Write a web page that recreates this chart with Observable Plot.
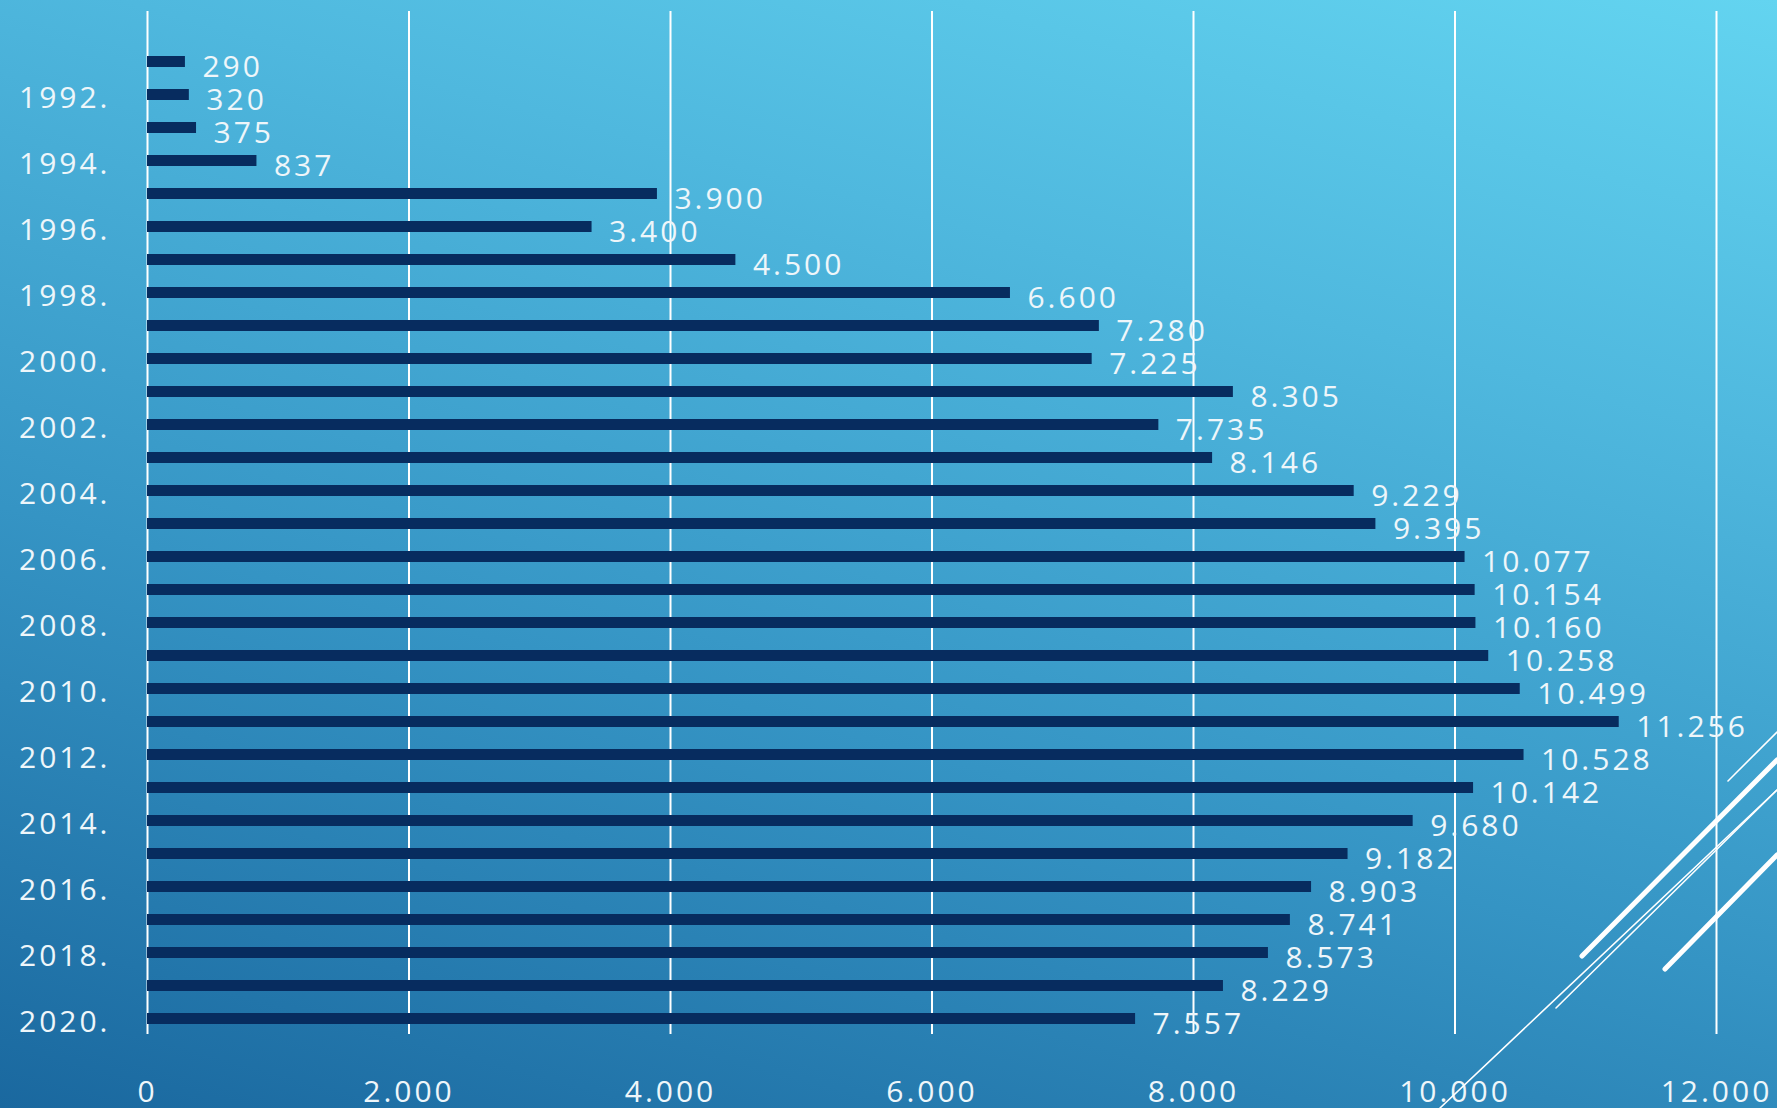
<!DOCTYPE html>
<html><head><meta charset="utf-8">
<script src="https://cdn.jsdelivr.net/npm/d3@7"></script>
<script src="https://cdn.jsdelivr.net/npm/@observablehq/plot@0.6"></script>
<style>
html,body{margin:0;padding:0;width:1777px;height:1108px;overflow:hidden}
body{background:linear-gradient(195deg,#63d4f0 0%,#4fb8de 28%,#3594c4 62%,#1a689f 100%);position:relative;font-family:"Open Sans",sans-serif}
#chart{position:absolute;left:0;top:0}
#deco{position:absolute;left:0;top:0;pointer-events:none}
</style></head><body>
<div id="chart"></div>
<svg id="deco" width="1777" height="1108" xmlns="http://www.w3.org/2000/svg">
  <g stroke="#ffffff" stroke-linecap="round" fill="none">
    <line x1="1440" y1="1108" x2="1777" y2="790" stroke-width="1.6"/>
    <line x1="1728" y1="781" x2="1777" y2="732" stroke-width="1.6"/>
    <line x1="1582" y1="956" x2="1777" y2="760" stroke-width="5"/>
    <line x1="1556" y1="1008" x2="1777" y2="790" stroke-width="1.6"/>
    <line x1="1665" y1="969" x2="1777" y2="855" stroke-width="5"/>
  </g>
</svg>
<script>
const years = [1991,1992,1993,1994,1995,1996,1997,1998,1999,2000,2001,2002,2003,2004,2005,2006,2007,2008,2009,2010,2011,2012,2013,2014,2015,2016,2017,2018,2019,2020];
const values = [290,320,375,837,3900,3400,4500,6600,7280,7225,8305,7735,8146,9229,9395,10077,10154,10160,10258,10499,11256,10528,10142,9680,9182,8903,8741,8573,8229,7557];
const yearTicks = [1992,1994,1996,1998,2000,2002,2004,2006,2008,2010,2012,2014,2016,2018,2020];
const xTicks = [0,2000,4000,6000,8000,10000,12000];

const fmt = d3.formatLocale({decimal: ",", thousands: ".", grouping: [3], currency: ["", ""]}).format(",");
const data = years.map((y, i) => ({year: y, value: values[i]}));
const textColor = "#eef6fa";

const chart = Plot.plot({
  width: 1777,
  height: 1108,
  marginLeft: 147,
  marginRight: 61,
  marginTop: 11,
  marginBottom: 74,
  style: {background: "transparent", fontFamily: "'Open Sans', sans-serif", fontSize: "30px", color: textColor, letterSpacing: "3px", overflow: "visible"},
  x: {domain: [0, 12000]},
  y: {domain: years, range: [54.75, 1025.25], paddingInner: 0.652, paddingOuter: 0},
  marks: [
    Plot.ruleX(xTicks, {stroke: "#ffffff", strokeWidth: 2}),
    Plot.barX(data, {x: "value", y: "year", fill: "#072c5f"}),
    Plot.text(data, {x: "value", y: "year", text: d => fmt(d.value), textAnchor: "start", dx: 17, dy: 5, fill: textColor, fontSize: 30}),
    Plot.axisX(xTicks, {tickSize: 0, tickPadding: 46, tickFormat: fmt, fontSize: 30, fill: textColor, label: null}),
    Plot.axisY(yearTicks, {tickSize: 0, tickPadding: 37, tickFormat: d => d + ".", fontSize: 30, fill: textColor, dy: 3, label: null})
  ]
});
document.getElementById("chart").appendChild(chart);
</script>
</body></html>
